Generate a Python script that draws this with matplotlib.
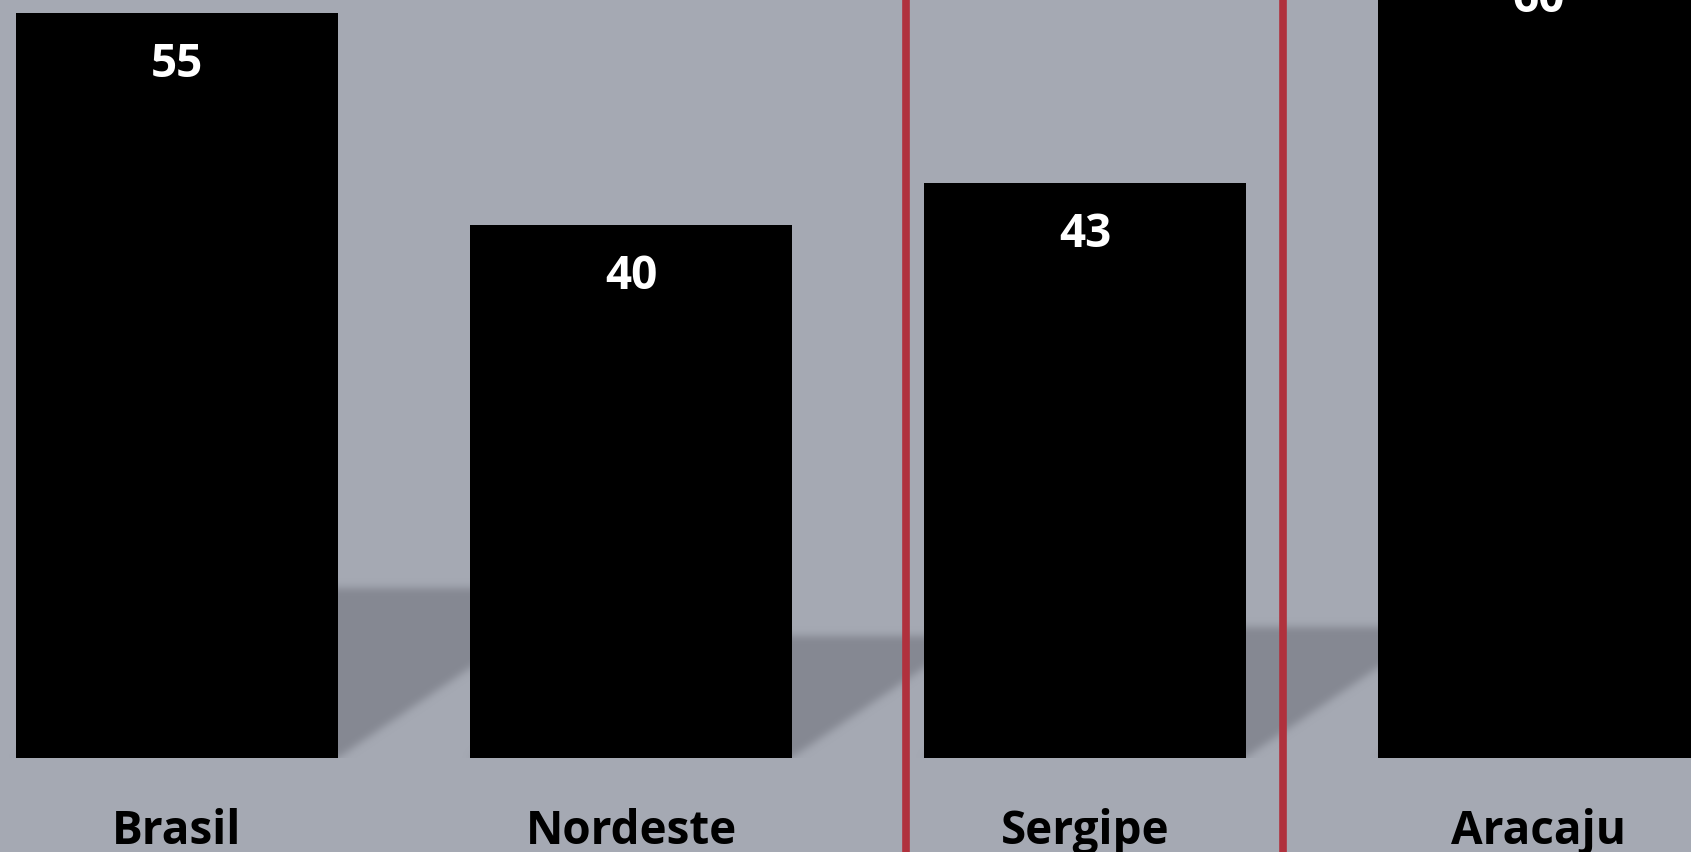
import numpy as np
import matplotlib.pyplot as plt
import matplotlib.transforms as mtransforms

categorias = ['Brasil', 'Nordeste', 'Sergipe', 'Aracaju']
valores = [55, 40, 43, 59.6]

base = 2.3          # o eixo começa aqui, as barras saem do fundo
fundo = '#a5a9b3'
cor_sombra = (0x85/255, 0x88/255, 0x92/255)
cor_linha = '#b0313d'
separadores = [1.606, 2.436]

plt.rcParams['font.family'] = ['Open Sans', 'DejaVu Sans']

W, H = 1691, 852
fig = plt.figure(figsize=(W/100, H/100), dpi=100)
fig.patch.set_facecolor(fundo)
ax = fig.add_axes([0, 94/H, 1, 758/H])
x0, x1 = -0.39, 3.335
y0, y1 = base, 55.93
ax.set_xlim(x0, x1)
ax.set_ylim(y0, y1)
ax.axis('off')

largura = 0.709
x = list(range(len(categorias)))

# sombra "no chão" atrás de cada barra (máscara desfocada)
gx = np.linspace(x0, x1, W)
gy = np.linspace(y0, y1, 758)
X, Y = np.meshgrid(gx, gy)
mask = np.zeros_like(X)
for i, v in zip(x, valores):
    h = v - base
    s = 0.228 * h
    dx = h * 0.01044
    t = (Y - base) / s
    xl, xr = i - largura/2, i + largura/2
    dentro = (t >= 0) & (t <= 1) & (X >= xl + dx*t) & (X <= xr + dx*t)
    mask[dentro] = 1.0

k = np.exp(-0.5 * (np.arange(-12, 13) / 4.0)**2)
k /= k.sum()
mask = np.apply_along_axis(lambda r: np.convolve(r, k, mode='same'), 1, mask)
mask = np.apply_along_axis(lambda c: np.convolve(c, k, mode='same'), 0, mask)
img = np.zeros(mask.shape + (4,))
img[..., :3] = cor_sombra
img[..., 3] = mask
ax.imshow(img, extent=(x0, x1, y0, y1), origin='lower', aspect='auto',
          interpolation='bilinear', zorder=1)

ax.bar(x, valores, width=largura, color='black', zorder=2)

for i, v in zip(x, valores):
    ax.text(i, v - 3.65, f'{v:.0f}', ha='center', va='center', color='white',
            fontsize=33, fontweight='bold', zorder=3, clip_on=False)

trans = mtransforms.blended_transform_factory(ax.transData, ax.transAxes)
for i, c in zip(x, categorias):
    ax.text(i, -0.097, c, transform=trans, ha='center', va='center',
            color='black', fontsize=33, fontweight='bold')

for xs in separadores:
    ax.axvline(xs, ymin=-0.124, ymax=1, color=cor_linha, lw=5.5, clip_on=False, zorder=4)

fig.savefig('out.png', dpi=100, facecolor=fundo)
